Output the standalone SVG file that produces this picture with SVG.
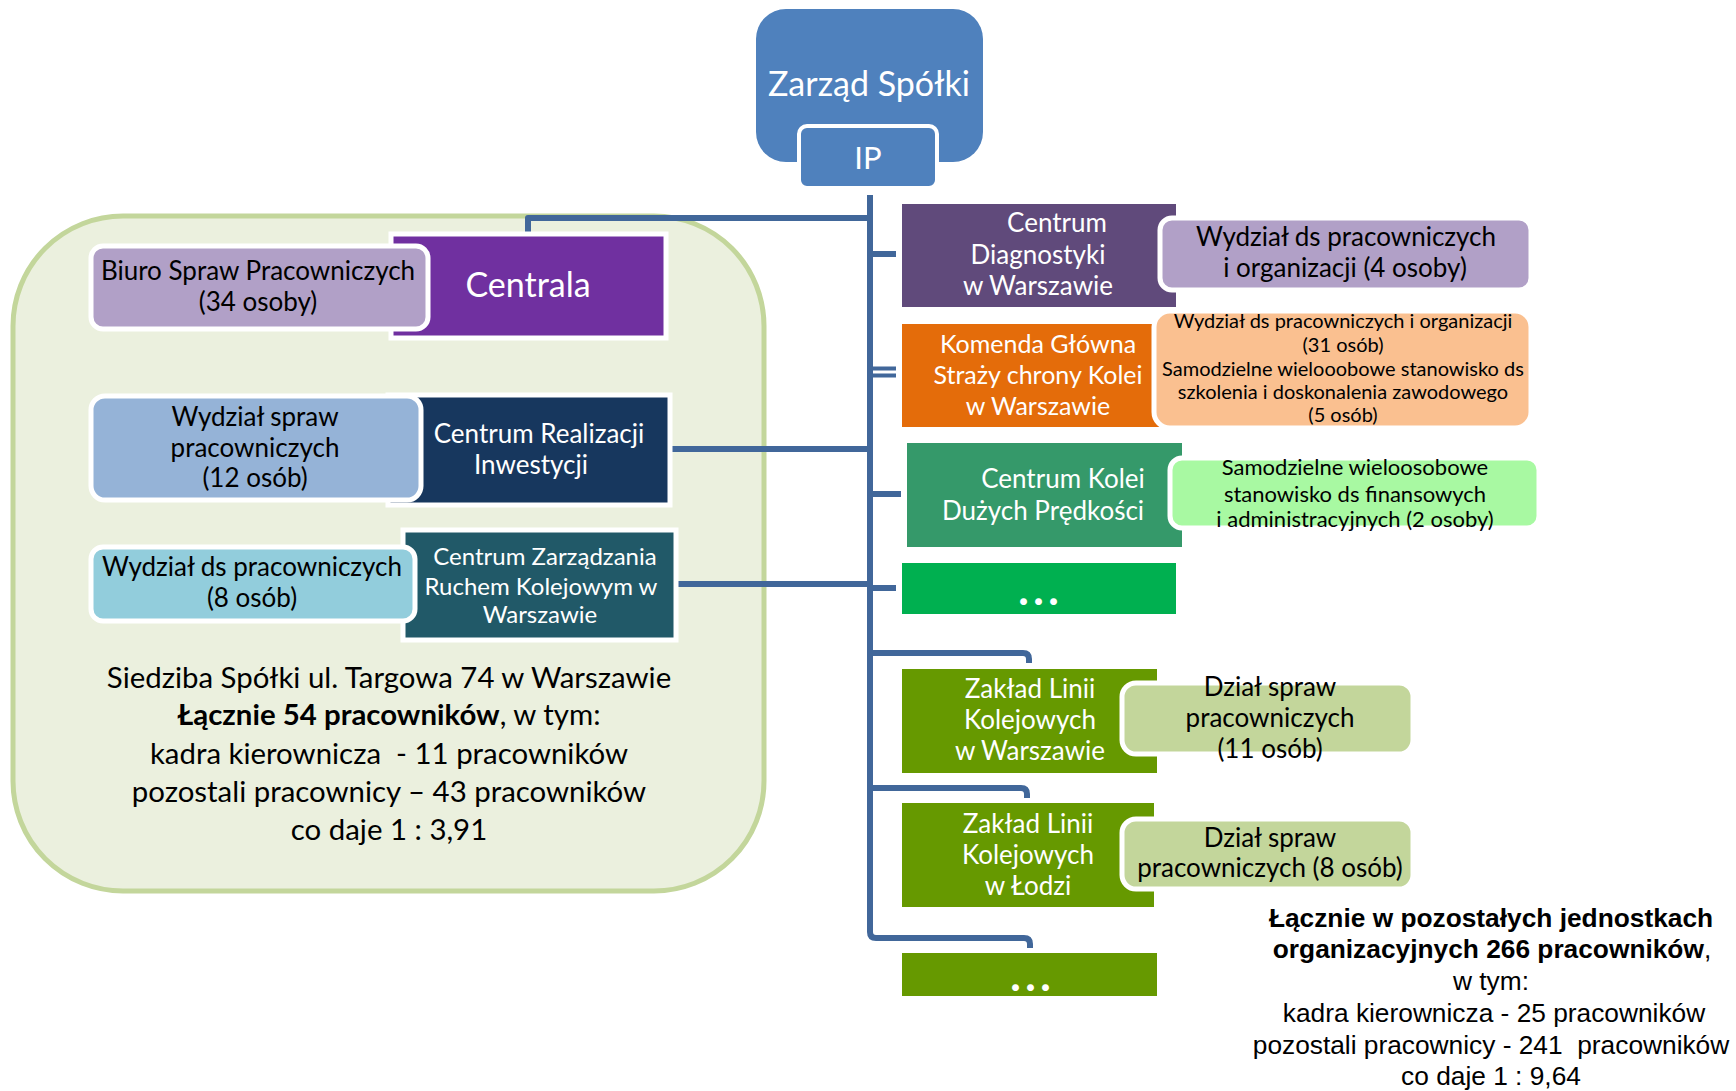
<svg xmlns="http://www.w3.org/2000/svg" width="1736" height="1091" viewBox="0 0 1736 1091">
<style>
.t{font-family:Lato,"Open Sans","DejaVu Sans",sans-serif;text-anchor:middle}
.a{font-family:"Liberation Sans",Arial,sans-serif;text-anchor:middle;font-size:26.3px;fill:#000;white-space:pre}
.w{fill:#fff}
.k{fill:#000}
.s26{font-size:26px}
.s24{font-size:24px}
.pre{white-space:pre}
.sub{stroke:#fff;stroke-width:5}
.par{stroke:#fff;stroke-width:5}
.conn{stroke:#41679A;stroke-width:6;fill:none;stroke-linejoin:round;stroke-linecap:butt}
.dots{font-size:42px;font-weight:900;letter-spacing:5px}
.sum{font-size:29.4px}
</style>
<rect width="1736" height="1091" fill="#fff"/>

<g id="panel-siedziba">
<rect x="13" y="216" width="751" height="675" rx="110" fill="#EBF0DE" stroke="#C3D69B" stroke-width="5"/>
</g>

<g id="connectors">
<path class="conn" d="M870 195 V932 Q870 938 876 938 H1024 Q1030 938 1030 944 V948"/>
<path class="conn" d="M870 218 H528 V234"/>
<path class="conn" d="M672 449 H870"/>
<path class="conn" d="M677 584 H870"/>
<path class="conn" d="M870 254 H896"/>
<path class="conn" style="stroke-width:4" d="M870 368.5 H896 M870 375.5 H896"/>
<path class="conn" d="M870 494 H901"/>
<path class="conn" d="M870 588 H896"/>
<path class="conn" d="M870 653 H1023 Q1029 653 1029 659 V663"/>
<path class="conn" d="M870 788 H1021 Q1027 788 1027 794 V798"/>
</g>

<g id="zarzad">
<rect x="756" y="9" width="227" height="153" rx="30" fill="#4F81BD"/>
<text class="t w" x="869" y="96" font-size="34">Zarząd Spółki</text>
</g>
<g id="ip">
<rect x="799" y="126" width="138" height="62" rx="8" fill="#4F81BD" stroke="#fff" stroke-width="4"/>
<text class="t w" x="868" y="169" font-size="31">IP</text>
</g>

<g id="centrala">
<rect class="par" x="391" y="234" width="275" height="104" fill="#7030A0"/>
<text class="t w" x="528" y="297" font-size="34">Centrala</text>
</g>
<g id="biuro">
<rect class="sub" x="91" y="246" width="337" height="83" rx="12" fill="#B1A0C7"/>
<text class="t k s26" x="258" y="280">Biuro Spraw Pracowniczych</text>
<text class="t k s26" x="258" y="311">(34 osoby)</text>
</g>

<g id="cri">
<rect class="par" x="388" y="395" width="282" height="110" fill="#17375E"/>
<text class="t w s26" x="539" y="443">Centrum Realizacji</text>
<text class="t w s26" x="531" y="474">Inwestycji</text>
</g>
<g id="wydzial-12">
<rect class="sub" x="91" y="396" width="330" height="104" rx="14" fill="#95B3D7"/>
<text class="t k s26" x="255" y="426">Wydział spraw</text>
<text class="t k s26" x="255" y="457">pracowniczych</text>
<text class="t k s26" x="255" y="487">(12 osób)</text>
</g>

<g id="czr">
<rect class="par" x="403" y="530" width="273" height="110" fill="#215968"/>
<text class="t w s24" x="545" y="565">Centrum Zarządzania</text>
<text class="t w s24" x="541" y="595">Ruchem Kolejowym w</text>
<text class="t w s24" x="540" y="623">Warszawie</text>
</g>
<g id="wydzial-8">
<rect class="sub" x="91" y="547" width="324" height="74" rx="12" fill="#92CDDC"/>
<text class="t k s26" x="252" y="576">Wydział ds pracowniczych</text>
<text class="t k s26" x="252" y="607">(8 osób)</text>
</g>

<g id="siedziba-text">
<text class="t k sum" x="389" y="688">Siedziba Spółki ul. Targowa 74 w Warszawie</text>
<text class="t k sum" x="389" y="725"><tspan font-weight="bold">Łącznie 54 pracowników</tspan>, w tym:</text>
<text class="t k sum pre" x="389" y="764">kadra kierownicza  - 11 pracowników</text>
<text class="t k sum" x="389" y="802">pozostali pracownicy – 43 pracowników</text>
<text class="t k sum" x="389" y="840">co daje 1 : 3,91</text>
</g>

<g id="centrum-diagnostyki">
<rect x="902" y="204" width="274" height="103" fill="#604A7B"/>
<text class="t w s26" x="1057" y="232">Centrum</text>
<text class="t w s26" x="1038" y="264">Diagnostyki</text>
<text class="t w s26" x="1038" y="295">w Warszawie</text>
</g>
<g id="wydzial-cd">
<rect class="sub" x="1160" y="218" width="371" height="72" rx="12" fill="#B1A0C7"/>
<text class="t k s26" x="1346" y="246">Wydział ds pracowniczych</text>
<text class="t k s26" x="1345" y="277">i organizacji (4 osoby)</text>
</g>

<g id="komenda">
<rect x="902" y="324" width="258" height="103" fill="#E46C0A"/>
<text class="t w" font-size="25" x="1038" y="353">Komenda Główna</text>
<text class="t w" font-size="25" x="1038" y="384">Straży chrony Kolei</text>
<text class="t w" font-size="25" x="1038" y="415">w Warszawie</text>
</g>
<g id="wydzial-komenda">
<rect class="sub" x="1154" y="311" width="377" height="117" rx="16" fill="#FAC090"/>
<text class="t k" font-size="20" x="1343" y="328">Wydział ds pracowniczych i organizacji</text>
<text class="t k" font-size="20" x="1343" y="352">(31 osób)</text>
<text class="t k" font-size="20" x="1343" y="376">Samodzielne wielooobowe stanowisko ds</text>
<text class="t k" font-size="20" x="1343" y="399">szkolenia i doskonalenia zawodowego</text>
<text class="t k" font-size="20" x="1343" y="422">(5 osób)</text>
</g>

<g id="ckdp">
<rect x="907" y="443" width="275" height="104" fill="#35996A"/>
<text class="t w s26" x="1063" y="488">Centrum Kolei</text>
<text class="t w s26" x="1043" y="520">Dużych Prędkości</text>
</g>
<g id="stanowisko-ckdp">
<rect class="sub" x="1170" y="458" width="369" height="70" rx="12" fill="#A8F9A2"/>
<text class="t k" font-size="22" x="1355" y="475">Samodzielne wieloosobowe</text>
<text class="t k" font-size="22" x="1355" y="502">stanowisko ds finansowych</text>
<text class="t k" font-size="22" x="1355" y="527">i administracyjnych (2 osoby)</text>
</g>

<g id="inne-centra">
<rect x="902" y="563" width="274" height="51" fill="#00B050"/>
<text class="t w dots" x="1041" y="605">...</text>
</g>

<g id="zlk-warszawa">
<rect x="902" y="669" width="255" height="104" fill="#669900"/>
<text class="t w s26" x="1030" y="698">Zakład Linii</text>
<text class="t w s26" x="1030" y="729">Kolejowych</text>
<text class="t w s26" x="1030" y="760">w Warszawie</text>
</g>
<g id="dzial-11">
<rect class="sub" x="1122" y="683" width="291" height="71" rx="14" fill="#C3D69B"/>
<text class="t k s26" x="1270" y="696">Dział spraw</text>
<text class="t k s26" x="1270" y="727">pracowniczych</text>
<text class="t k s26" x="1270" y="758">(11 osób)</text>
</g>

<g id="zlk-lodz">
<rect x="902" y="803" width="252" height="104" fill="#669900"/>
<text class="t w s26" x="1028" y="833">Zakład Linii</text>
<text class="t w s26" x="1028" y="864">Kolejowych</text>
<text class="t w s26" x="1028" y="895">w Łodzi</text>
</g>
<g id="dzial-8">
<rect class="sub" x="1122" y="819" width="291" height="70" rx="14" fill="#C3D69B"/>
<text class="t k s26" x="1270" y="847">Dział spraw</text>
<text class="t k s26" x="1270" y="877">pracowniczych (8 osób)</text>
</g>

<g id="inne-zaklady">
<rect x="902" y="953" width="255" height="43" fill="#669900"/>
<text class="t w dots" x="1033" y="991">...</text>
</g>

<g id="pozostale-text">
<text class="a" x="1491" y="927" font-weight="bold">Łącznie w pozostałych jednostkach</text>
<text class="a" x="1492" y="958"><tspan font-weight="bold">organizacyjnych 266 pracowników</tspan>,</text>
<text class="a" x="1491" y="990">w tym:</text>
<text class="a" x="1494" y="1022">kadra kierownicza - 25 pracowników</text>
<text class="a" x="1491" y="1054">pozostali pracownicy - 241  pracowników</text>
<text class="a" x="1491" y="1085">co daje 1 : 9,64</text>
</g>
</svg>
